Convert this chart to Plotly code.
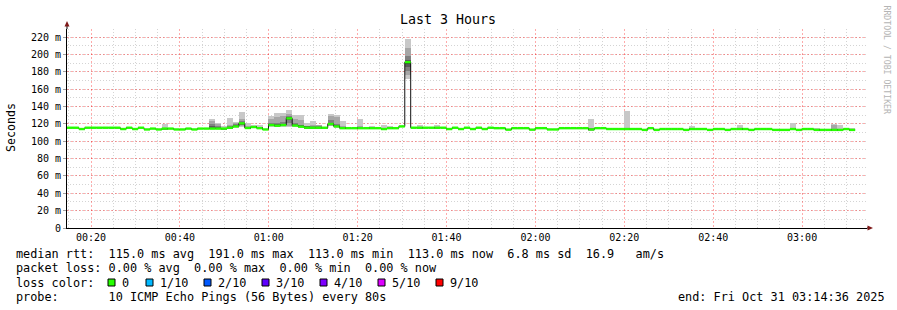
import plotly.graph_objects as go
from datetime import datetime, timedelta

# ---------------- data ----------------
END_TIME = datetime(2025, 10, 31, 3, 14, 36)
STEP_SECONDS = 80
N_STEPS = 135

# median rtt per 80 s step (ms); last two steps not yet available
median_ms = (
    [115.5, 115.5, 114, 115.5, 115.5, 115.5, 115.5, 115.5, 115.5, 114, 115.5, 114, 115.5]
    + [113.5, 114.5, 113.5, 114.5, 114.5, 113.5, 113.5, 114.5, 113.5, 114.5, 114.5, 114.5, 114.5, 114.5]
    + [115.5, 117, 120.5, 115.2, 116.3, 115, 113.5, 118.6, 117.8, 118.6, 126.3, 118, 116.7,
       115.5, 115.5, 115.5, 115.5, 119.8, 117]
    + [115, 115, 115, 115, 115, 115, 115, 114, 115, 115, 117, 191]
    + [115.5, 115.5, 115.5, 115.5, 115.5, 115.5]
    + [114, 115.5, 114, 115.5, 114, 115.5, 114, 115.5]
    + [115, 115, 113.3, 115, 115, 115, 113.3, 115, 115, 113.5, 113.5, 115, 115, 115, 115, 115,
       113.5, 115, 115]
    + [114, 114, 114, 114, 114, 114, 113, 115, 113, 114, 114, 114, 114, 113, 114, 114, 114, 113,
       114, 114, 113, 114, 114, 114, 113, 114, 114, 114, 113, 113, 113, 114, 113, 114, 114, 113,
       113, 113, 113, 113, 114, 113]
    + [None, None]
)

# steps with visible smoke, and their 10 sorted ping times (ms)
smoke_step = [16, 24, 25, 26, 27, 28, 29, 30, 31, 32, 34, 35, 36, 37, 38, 39, 40, 41, 42, 43, 44,
              45, 46, 47, 49, 51, 53, 54, 57, 59, 62, 88, 94, 105, 113, 122, 126, 129, 130, 132]
ping1 = [113.5, 113.5, 113.5, 113.5, 114.5, 115.5, 116, 114, 115, 114, 116, 116, 116.5, 116, 116.5, 115.5, 114.5, 114.5, 114.5, 114.5, 117,
         115.5, 114, 114, 114, 114, 113, 114, 172, 114.5, 114.5, 112.5, 113, 113, 113, 113, 112, 112, 112, 112]
ping2 = [113.8, 113.8, 113.8, 113.8, 114.8, 116, 117, 114.2, 115.5, 114.2, 117, 116.5, 117, 117.5, 117, 116, 114.8, 114.8, 114.8, 114.8, 118,
         116, 114.2, 114.2, 114.2, 114.2, 113.2, 114.2, 176, 114.8, 114.8, 112.8, 113.2, 113.2, 113.2, 113.2, 112.2, 112.2, 112.2, 112.2]
ping3 = [114, 114, 114, 114, 115, 116.5, 118.5, 114.5, 115.8, 114.5, 117.8, 117, 117.8, 121, 117.3, 116.2, 115, 115, 115, 115, 118.8,
         116.5, 114.5, 114.5, 114.5, 114.5, 113.5, 114.5, 181, 115, 115, 113, 113.5, 113.5, 113.5, 113.5, 112.5, 112.5, 112.5, 112.5]
ping4 = [114.3, 114.3, 114.2, 114.2, 115.2, 116.8, 119.5, 114.8, 116, 114.8, 118.2, 117.5, 118.2, 124, 117.7, 116.5, 115.2, 115.2, 115.2, 115.2, 119.3,
         116.8, 114.8, 114.8, 114.8, 114.8, 113.8, 114.8, 185, 115.2, 115.2, 113.3, 113.8, 113.8, 113.8, 113.8, 112.8, 112.8, 112.8, 112.8]
ping5 = [114.5, 114.5, 114.5, 114.4, 115.5, 117, 120.3, 115, 116.2, 115, 118.5, 117.8, 118.5, 126, 118, 116.7, 115.5, 115.5, 115.5, 115.5, 119.7,
         117, 115, 115, 115, 115, 114, 115, 189, 115.5, 115.5, 113.5, 114, 114, 114, 114, 113, 113, 113, 113]
ping6 = [114.8, 115, 115, 114.6, 115.8, 117.3, 120.8, 115.5, 116.5, 115.2, 118.8, 118, 118.8, 126.8, 118.3, 117, 116, 115.8, 115.8, 115.8, 120.2,
         117.3, 115.5, 115.2, 115.5, 115.2, 114.3, 115.2, 192, 115.8, 115.8, 113.8, 114.2, 114.2, 114.2, 114.2, 113.2, 113.2, 113.2, 113.2]
ping7 = [115, 117, 115.5, 114.8, 116.2, 118, 121.5, 116, 116.8, 115.5, 119.5, 118.8, 119.5, 127.5, 119, 117.5, 116.5, 116.2, 116.2, 116, 121.5,
         118, 116, 115.5, 116, 115.5, 114.6, 115.5, 193, 116, 116, 114, 114.5, 114.5, 114.5, 114.5, 113.5, 113.5, 113.5, 113.5]
ping8 = [115, 119.5, 117, 115, 117, 119.5, 123, 116.5, 117, 115.8, 121.5, 121, 122, 129, 120.5, 119, 117, 117, 117, 116.3, 124.5,
         120, 116.5, 115.8, 116.5, 116, 115, 115.8, 198, 116.3, 116.3, 114.3, 114.8, 114.8, 114.8, 114.8, 113.8, 114, 113.8, 113.8]
ping9 = [115.5, 123.5, 119.5, 115.5, 119, 121.5, 125.5, 118, 117.5, 116, 125, 127.5, 129, 131.5, 125.5, 124, 118, 119, 118.5, 116.5, 129,
         127.5, 118, 116.2, 117.5, 116.5, 115.5, 116.2, 207, 116.6, 116.6, 114.6, 115, 115, 115, 115, 114, 119, 114, 114]
ping10 = [120, 125.5, 121, 118, 127, 122.5, 133.5, 121.5, 118.6, 118.6, 129, 132, 132, 136, 130, 130, 121, 123.5, 119, 116.7, 131,
          130, 123, 116.7, 125.5, 117.5, 118.6, 117, 218, 118.6, 118.6, 125.5, 134.8, 117.7, 118.6, 120.9, 115.7, 119.8, 118.6, 115.5]

y_tick_values = [0, 20, 40, 60, 80, 100, 120, 140, 160, 180, 200, 220]
y_tick_labels = ["0", "20 m", "40 m", "60 m", "80 m", "100 m", "120 m", "140 m",
                 "160 m", "180 m", "200 m", "220 m"]

loss_labels = ["0", "1/10", "2/10", "3/10", "4/10", "5/10", "9/10"]
loss_colors = ["#26ff00", "#00b8ff", "#0059ff", "#5e00ff", "#7e00ff", "#dd00ff", "#ff0000"]

title_text = "Last 3 Hours"
line_median = "median rtt:  115.0 ms avg  191.0 ms max  113.0 ms min  113.0 ms now  6.8 ms sd  16.9   am/s"
line_loss = "packet loss: 0.00 % avg  0.00 % max  0.00 % min  0.00 % now"
line_color = "loss color:"
line_probe = "probe:       10 ICMP Echo Pings (56 Bytes) every 80s"
line_end = "end: Fri Oct 31 03:14:36 2025"

# ---------------- derived ----------------
start_time = END_TIME - timedelta(seconds=STEP_SECONDS * N_STEPS)
step_start = [start_time + timedelta(seconds=STEP_SECONDS * i) for i in range(N_STEPS + 1)]
step_mid = [t + timedelta(seconds=STEP_SECONDS / 2) for t in step_start]

# pixel geometry of the plot area
W, H = 897, 310
L, R, T, B = 67, 867, 29, 228
Y_MAX = (B - T) / ((228 - 37) / 220.0)


def px(x):
    return (x - L) / (R - L)


def py(y):
    return (B - y) / (B - T)


def nb(s):
    return s.replace(" ", "\u00a0")


fig = go.Figure()

# smoke bands (outermost lightest -> innermost darkest)
pings = [ping1, ping2, ping3, ping4, ping5, ping6, ping7, ping8, ping9, ping10]
shades = ["#c8c8c8", "#a6a6a6", "#808080", "#5a5a5a", "#343434"]
for k in range(5):
    lo = pings[k]
    hi = pings[9 - k]
    fig.add_trace(go.Bar(
        x=[step_mid[s] for s in smoke_step],
        y=[h - l for h, l in zip(hi, lo)],
        base=lo,
        width=STEP_SECONDS * 1000,
        marker=dict(color=shades[k], line=dict(width=0)),
        hoverinfo="skip",
    ))

# dark median step line
valid = [i for i in range(N_STEPS) if median_ms[i] is not None]
last = valid[-1]
fig.add_trace(go.Scatter(
    x=[step_start[i] for i in valid] + [step_start[last + 1]],
    y=[median_ms[i] for i in valid] + [median_ms[last]],
    mode="lines", line=dict(color="#101010", width=1, shape="hv"),
    hoverinfo="skip",
))

# green (0 loss) median band: horizontal segments per step
gx, gy = [], []
for i in valid:
    gx += [step_start[i], step_start[i + 1], None]
    gy += [median_ms[i], median_ms[i], None]
fig.add_trace(go.Scatter(x=gx, y=gy, mode="lines",
                         line=dict(color=loss_colors[0], width=2.4),
                         hoverinfo="skip"))

MAJOR_GRID = "rgba(255,0,0,0.33)"
MINOR_GRID = "rgba(120,120,120,0.32)"
FONT = "DejaVu Sans Mono"

fig.update_layout(
    width=W, height=H,
    margin=dict(l=L, r=W - R, t=T, b=H - B, pad=0),
    paper_bgcolor="white", plot_bgcolor="white",
    showlegend=False, barmode="overlay", bargap=0,
    xaxis=dict(
        type="date", range=[start_time, END_TIME],
        tick0="2025-10-31 00:00:00", dtick=20 * 60 * 1000, tickformat="%H:%M",
        showgrid=True, gridcolor=MAJOR_GRID, griddash="2px,2px", gridwidth=1,
        minor=dict(tick0="2025-10-31 00:00:00", dtick=5 * 60 * 1000, showgrid=True,
                   gridcolor=MINOR_GRID, griddash="1px,2px", gridwidth=1),
        showline=True, linecolor="#000000", linewidth=1,
        ticks="", zeroline=False,
        tickfont=dict(family=FONT, size=10, color="#000000"),
        fixedrange=True,
    ),
    yaxis=dict(
        range=[0, Y_MAX],
        tickvals=y_tick_values, ticktext=y_tick_labels,
        showgrid=True, gridcolor=MAJOR_GRID, griddash="2px,2px", gridwidth=1,
        minor=dict(dtick=10, tick0=0, showgrid=True, gridcolor=MINOR_GRID,
                   griddash="1px,2px", gridwidth=1),
        showline=True, linecolor="#000000", linewidth=1,
        ticks="outside", ticklen=3, tickcolor="#a0a0a0", zeroline=False,
        tickfont=dict(family=FONT, size=10, color="#000000"),
        fixedrange=True,
    ),
)

shapes = []
ARROW = "#7f1a1a"
# axis extensions and arrows
shapes.append(dict(type="line", xref="paper", yref="paper", x0=px(67), x1=px(67), y0=py(29), y1=py(25),
                   line=dict(color="#000000", width=1)))
shapes.append(dict(type="path", xref="paper", yref="paper",
                   path=f"M {px(64.5)} {py(26.5)} L {px(69.5)} {py(26.5)} L {px(67)} {py(21)} Z",
                   fillcolor=ARROW, line=dict(width=0)))
shapes.append(dict(type="line", xref="paper", yref="paper", x0=px(867), x1=px(868), y0=py(228), y1=py(228),
                   line=dict(color="#000000", width=1)))
shapes.append(dict(type="path", xref="paper", yref="paper",
                   path=f"M {px(867.5)} {py(225.5)} L {px(867.5)} {py(230.5)} L {px(873)} {py(228)} Z",
                   fillcolor=ARROW, line=dict(width=0)))

annotations = []


def add_text(x, y, text, size=11.83, color="#000000", xanchor="left", angle=0):
    annotations.append(dict(
        xref="paper", yref="paper", x=px(x), y=py(y), text=nb(text),
        showarrow=False, xanchor=xanchor, yanchor="middle", textangle=angle,
        borderpad=0, borderwidth=0,
        font=dict(family=FONT, size=size, color=color)))


add_text(448, 19, title_text, size=13.3, xanchor="center")
add_text(11, 127, "Seconds", size=11.6, xanchor="center", angle=-90)
add_text(886.5, 60, "RRDTOOL / TOBI OETIKER", size=8.2, color="#b4b4b4", xanchor="center", angle=90)

add_text(16, 253.5, line_median)
add_text(16, 268, line_loss)
add_text(16, 282.5, line_color)
add_text(16, 297, line_probe)
add_text(678, 297, line_end)

box_x = [108, 146, 204, 262, 320, 378, 436]
for bx, lab, col in zip(box_x, loss_labels, loss_colors):
    shapes.append(dict(type="rect", xref="paper", yref="paper",
                       x0=px(bx), x1=px(bx + 7), y0=py(286), y1=py(279),
                       fillcolor=col, line=dict(color="#000000", width=1)))
    add_text(bx + 14, 282.5, lab)

fig.update_layout(shapes=shapes, annotations=annotations)
fig.write_html("out.html")
